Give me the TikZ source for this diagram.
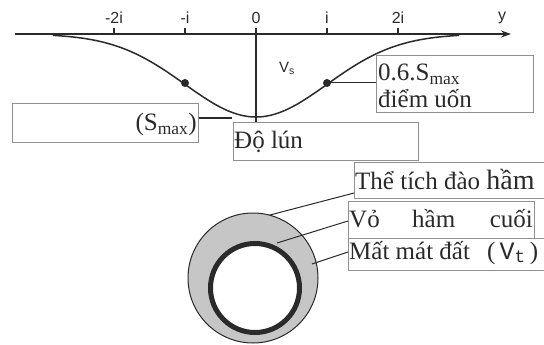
\documentclass[tikz,border=0pt]{standalone}
\usepackage{fontspec}
\setmainfont{Liberation Serif}
\newfontfamily\axisfont{Liberation Sans}
\newfontfamily\vtfont{Liberation Mono}
\usetikzlibrary{arrows.meta}
\definecolor{ink}{HTML}{2A2A2A}
\definecolor{boxline}{HTML}{909090}
\definecolor{ringgray}{HTML}{C6C6C6}
\tikzset{
  box/.style={draw=boxline, line width=0.8pt, inner sep=0pt, anchor=north west},
  conn/.style={draw=ink, line width=1pt},
  curveline/.style={draw=ink, line width=1.5pt},
  axisline/.style={draw=ink, line width=1.4pt},
  dotnode/.style={circle, fill=ink, inner sep=0pt, minimum size=8pt},
  axlbl/.style={font=\axisfont\fontsize{16}{16}\selectfont, text=ink, inner sep=0pt},
  boxtxt/.style={font=\fontsize{25}{25}\selectfont, text=ink, inner sep=0pt},
}
\begin{document}
\begin{tikzpicture}[x=1pt,y=-1pt]
\useasboundingbox (0,0) rectangle (544,345);
% axis
\coordinate (ax0) at (15,34);
\coordinate (ax1) at (511,34);
\coordinate (orig) at (256,34);
\draw[axisline, -{Stealth[length=10pt,width=7pt]}] (ax0) -- (ax1);
\foreach \t/\l in {-2/-2i,-1/-i,0/0,1/i,2/2i}{
  \draw[axisline, line width=1.1pt] ({256+71*\t},34) -- ++(0,-6);
  \node[axlbl] (tick\t) at ({256+71*\t},18) {\l};
}
\node[axlbl] (ylab) at (502,18) {y};
% settlement curve
\draw[curveline] plot[domain=-2.86:2.86, samples=120, smooth] ({256+71*\x},{34+83*exp(-(\x*\x)/2)});
\node[dotnode] (d1) at (185,83) {};
\node[dotnode] (d2) at (327,83) {};
\node[axlbl, font=\axisfont\fontsize{15}{15}\selectfont] (vs) at (287,68) {V\textsubscript{s}};
% boxes
\node[box, minimum width=157pt, minimum height=57pt] (b06) at (376,55) {};
\node[box, minimum width=186pt, minimum height=39pt] (bS) at (12,103) {};
\node[box, minimum width=185pt, minimum height=38pt] (bDL) at (233,122) {};
\node[box, minimum width=200pt, minimum height=36pt] (bTT) at (354,162) {};
\node[box, minimum width=186pt, minimum height=37pt] (bVo) at (348,201) {};
\node[box, minimum width=200pt, minimum height=32pt] (bMM) at (348,238) {};
% vertical axis line
\draw[axisline] (orig) -- (orig |- bDL.north);
% texts
\node[boxtxt, anchor=base west] (t06) at (378,81) {0.6.S\textsubscript{max}};
\node[boxtxt, anchor=base west] (tdu) at (378,107) {điểm uốn};
\node[boxtxt, anchor=base east] (tS) at (197,131) {(S\textsubscript{max})};
\node[boxtxt, anchor=base west] (tDL) at (234,148) {Độ lún};
\node[boxtxt, anchor=base west] (tTT) at (355,189) {Thể tích đào {\fontsize{28}{28}\selectfont hầm}};
\node[boxtxt, anchor=base west] (tVo1) at (349,227) {Vỏ};
\node[boxtxt, anchor=base west] (tVo2) at (412,227) {hầm};
\node[boxtxt, anchor=base east] (tVo3) at (533,227) {cuối};
\node[boxtxt, anchor=base west] (tMM) at (349,259) {Mất mát đất};
\node[boxtxt, anchor=base west] (tVt) at (487,259) {(\,{\vtfont V\textsubscript{t}}\,)};
% connectors top
\coordinate (sEnd) at (232,118);
\draw[conn] (bS.east |- sEnd) -- (sEnd);
\draw[conn] (d2) -- (d2 -| b06.west);
% tunnel
\coordinate (oc) at (253,278);
\coordinate (ic) at (255,288);
\fill[ringgray] (oc) circle[radius=65pt];
\draw[ink, line width=1pt] (oc) circle[radius=65pt];
\draw[ink, line width=5pt, fill=white] (ic) circle[radius=44.5pt];
\coordinate (c1) at (270,215);
\coordinate (c2) at (277,243);
\coordinate (c3) at (312,264);
\coordinate (e1) at (354,193);
\coordinate (e2) at (348,221);
\coordinate (e3) at (348,252);
\draw[conn] (c1) -- (e1);
\draw[conn] (c2) -- (e2);
\draw[conn] (c3) -- (e3);
\end{tikzpicture}
\end{document}
